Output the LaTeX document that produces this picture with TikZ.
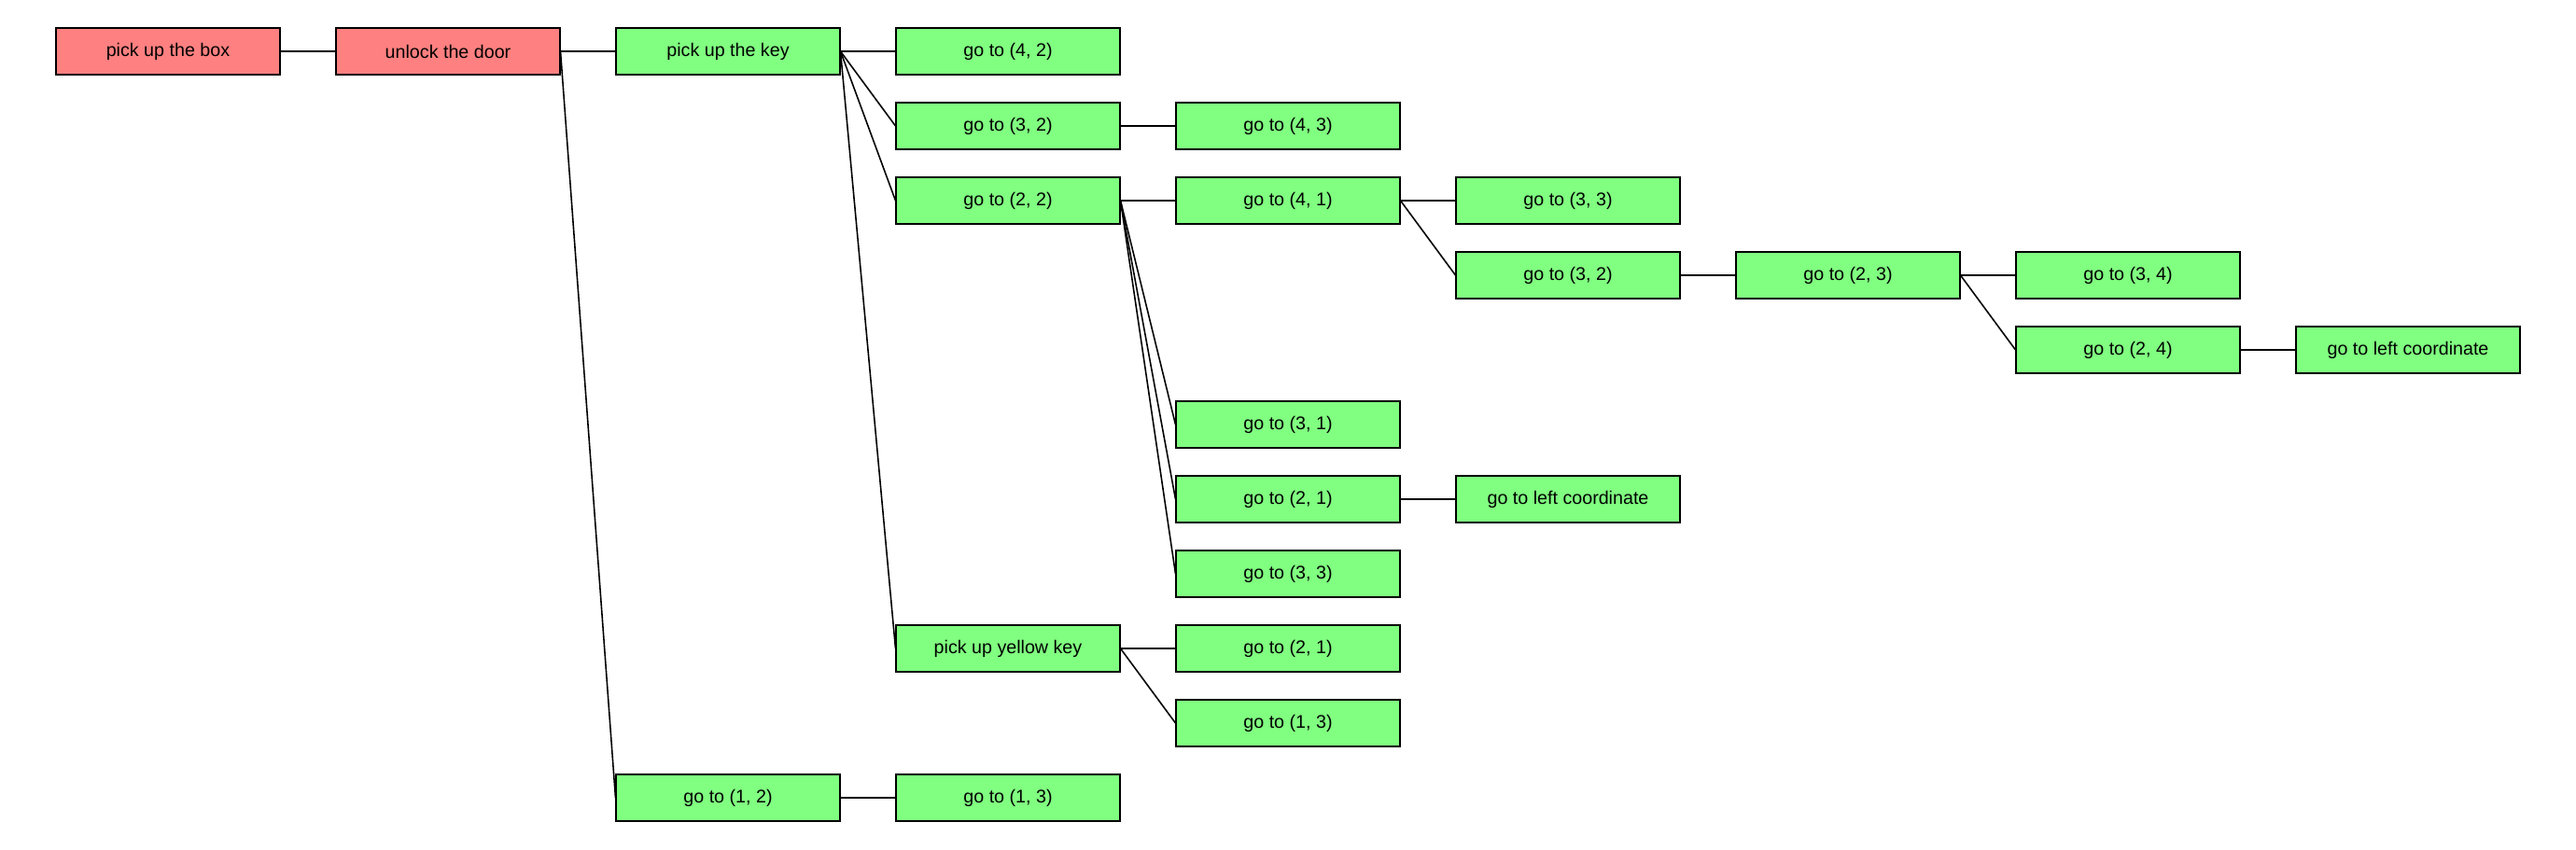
\documentclass[tikz,border=0pt]{standalone}
\usepackage{fontspec}
\setmainfont{Liberation Sans}
\usepackage{tikz}
\usetikzlibrary{positioning}
\definecolor{taskred}{RGB}{255,128,128}
\definecolor{taskgreen}{RGB}{128,255,128}
\tikzset{
    task/.style={draw, line width=0.6pt, minimum width=4.8cm, minimum height=1cm,
        inner sep=0pt, font=\fontsize{11.2}{13}\selectfont},
    redtask/.style={task, fill=taskred},
    greentask/.style={task, fill=taskgreen},
    link/.style={line width=0.9pt}
}
\begin{document}
\begin{tikzpicture}[x=6cm, y=-1.6cm]
    \useasboundingbox (-0.6,-0.6875) rectangle (8.6,10.6875);

    % Tasks
    \node[redtask] (Box) at (0,0) {pick up the box};
    \node[redtask] (Door) at (1,0) {unlock the door};
    \node[greentask] (Key) at (2,0) {pick up the key};
    \node[greentask] (G12) at (2,10) {go to (1, 2)};
    \node[greentask] (G13b) at (3,10) {go to (1, 3)};

    \node[greentask] (G42) at (3,0) {go to (4, 2)};
    \node[greentask] (G32) at (3,1) {go to (3, 2)};
    \node[greentask] (G22) at (3,2) {go to (2, 2)};
    \node[greentask] (Yellow) at (3,8) {pick up yellow key};

    \node[greentask] (G43) at (4,1) {go to (4, 3)};
    \node[greentask] (G41) at (4,2) {go to (4, 1)};
    \node[greentask] (G31) at (4,5) {go to (3, 1)};
    \node[greentask] (G21) at (4,6) {go to (2, 1)};
    \node[greentask] (G33) at (4,7) {go to (3, 3)};
    \node[greentask] (G21b) at (4,8) {go to (2, 1)};
    \node[greentask] (G13) at (4,9) {go to (1, 3)};

    \node[greentask] (G33b) at (5,2) {go to (3, 3)};
    \node[greentask] (G32b) at (5,3) {go to (3, 2)};
    \node[greentask] (Left1) at (5,6) {go to left coordinate};
    \node[greentask] (G23) at (6,3) {go to (2, 3)};
    \node[greentask] (G34) at (7,3) {go to (3, 4)};
    \node[greentask] (G24) at (7,4) {go to (2, 4)};
    \node[greentask] (Left2) at (8,4) {go to left coordinate};

    % Links
    \draw[link] (Box.east) -- (Door.west);
    \draw[link] (Door.east) -- (Key.west);
    \draw[link] (Door.east) -- (G12.west);
    \draw[link] (G12.east) -- (G13b.west);

    \draw[link] (Key.east) -- (G42.west);
    \draw[link] (Key.east) -- (G32.west);
    \draw[link] (Key.east) -- (G22.west);
    \draw[link] (Key.east) -- (Yellow.west);

    \draw[link] (G32.east) -- (G43.west);
    \draw[link] (G22.east) -- (G41.west);
    \draw[link] (G22.east) -- (G31.west);
    \draw[link] (G22.east) -- (G21.west);
    \draw[link] (G22.east) -- (G33.west);
    \draw[link] (Yellow.east) -- (G21b.west);
    \draw[link] (Yellow.east) -- (G13.west);

    \draw[link] (G41.east) -- (G33b.west);
    \draw[link] (G41.east) -- (G32b.west);
    \draw[link] (G21.east) -- (Left1.west);
    \draw[link] (G32b.east) -- (G23.west);
    \draw[link] (G23.east) -- (G34.west);
    \draw[link] (G23.east) -- (G24.west);
    \draw[link] (G24.east) -- (Left2.west);
\end{tikzpicture}
\end{document}
